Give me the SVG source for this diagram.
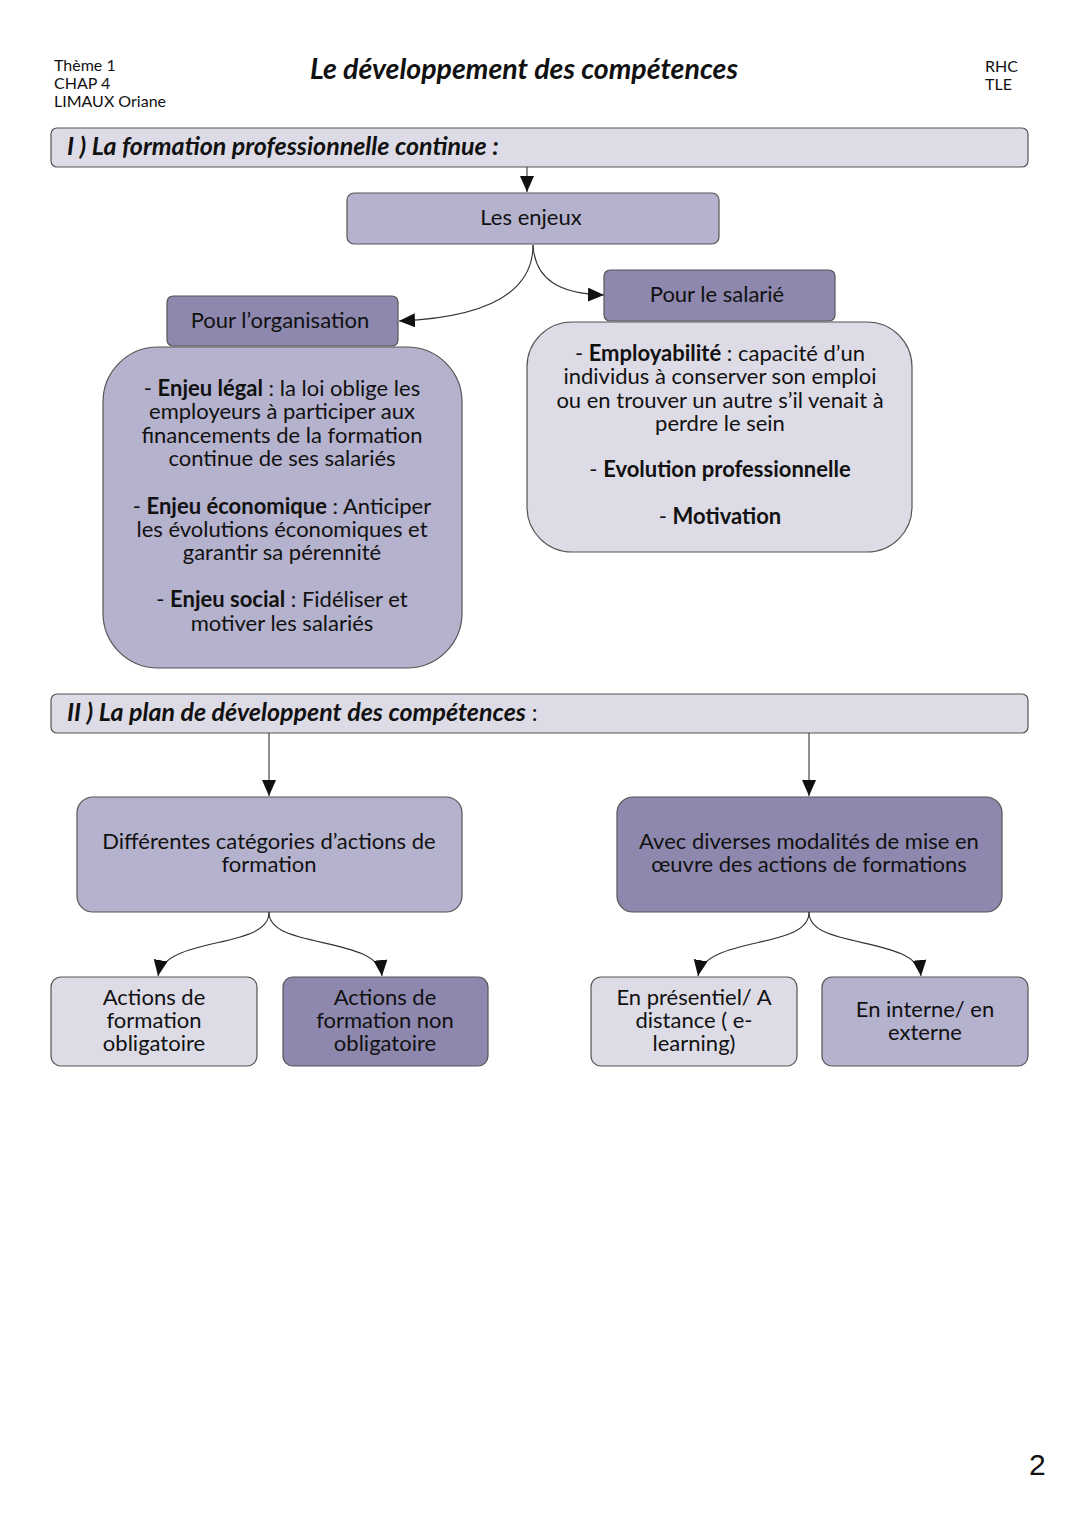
<svg xmlns="http://www.w3.org/2000/svg" width="1080" height="1527" viewBox="0 0 1080 1527">
<style>
text{font-family:Lato,"Open Sans","Liberation Sans",sans-serif;fill:#111;}
.hd{font-size:16px;}
.t{font-size:22px;text-anchor:middle;}
.b{font-weight:bold;}
.sec{font-size:25px;font-weight:bold;font-style:italic;}
.light{fill:#DDDCE6;stroke:#555;stroke-width:1.2;}
.mid{fill:#B5B2CD;stroke:#555;stroke-width:1.2;}
.dark{fill:#8E88AE;stroke:#555;stroke-width:1.2;}
.c{fill:none;stroke:#333;stroke-width:1.1;}
</style>
<defs>
<marker id="ah" markerUnits="userSpaceOnUse" markerWidth="18" markerHeight="16" refX="16" refY="7" orient="auto">
<path d="M0,0 L16,7 L0,14 Z" fill="#111"/>
</marker>
</defs>
<rect width="1080" height="1527" fill="#fff"/>
<g id="header">
<text class="hd" x="54" y="71">Thème 1</text>
<text class="hd" x="54" y="89">CHAP 4</text>
<text class="hd" x="54" y="107">LIMAUX Oriane</text>
<text x="310" y="79" style="font-size:28.5px;font-weight:bold;font-style:italic">Le développement des compétences</text>
<text class="hd" x="985" y="72">RHC</text>
<text class="hd" x="985" y="90">TLE</text>
</g>
<g id="sec1">
<rect class="light" x="51" y="128" width="977" height="39" rx="6"/>
<text class="sec" x="67" y="155">I ) La formation professionnelle continue :</text>
</g>
<g id="enjeux">
<rect class="mid" x="347" y="193" width="372" height="51" rx="7"/>
<text class="t" x="531" y="225">Les enjeux</text>
</g>
<g id="organisation">
<rect class="dark" x="167" y="296" width="231" height="50" rx="6"/>
<text class="t" x="280" y="328">Pour l’organisation</text>
</g>
<g id="org-detail">
<rect class="mid" x="103" y="347" width="359" height="321" rx="55"/>
<text class="t" x="282" y="396">- <tspan class="b">Enjeu légal</tspan> : la loi oblige les</text>
<text class="t" x="282" y="419">employeurs à participer aux</text>
<text class="t" x="282" y="443">financements de la formation</text>
<text class="t" x="282" y="466">continue de ses salariés</text>
<text class="t" x="282" y="514">- <tspan class="b">Enjeu économique</tspan> : Anticiper</text>
<text class="t" x="282" y="537">les évolutions économiques et</text>
<text class="t" x="282" y="560">garantir sa pérennité</text>
<text class="t" x="282" y="607">- <tspan class="b">Enjeu social</tspan> : Fidéliser et</text>
<text class="t" x="282" y="631">motiver les salariés</text>
</g>
<g id="salarie">
<rect class="dark" x="604" y="270" width="231" height="51" rx="6"/>
<text class="t" x="717" y="302">Pour le salarié</text>
</g>
<g id="sal-detail">
<rect class="light" x="527" y="322" width="385" height="230" rx="45"/>
<text class="t" x="720" y="361">- <tspan class="b">Employabilité</tspan> : capacité d’un</text>
<text class="t" x="720" y="384">individus à conserver son emploi</text>
<text class="t" x="720" y="408">ou en trouver un autre s’il venait à</text>
<text class="t" x="720" y="431">perdre le sein</text>
<text class="t" x="720" y="477">- <tspan class="b">Evolution professionnelle</tspan></text>
<text class="t" x="720" y="524">- <tspan class="b">Motivation</tspan></text>
</g>
<g id="sec2">
<rect class="light" x="51" y="694" width="977" height="39" rx="6"/>
<text class="sec" x="67" y="721">II ) La plan de développent des compétences<tspan style="font-weight:normal;font-style:normal;font-size:23px"> :</tspan></text>
</g>
<g id="categories">
<rect class="mid" x="77" y="797" width="385" height="115" rx="16"/>
<text class="t" x="269" y="849">Différentes catégories d’actions de</text>
<text class="t" x="269" y="872">formation</text>
</g>
<g id="modalites">
<rect class="dark" x="617" y="797" width="385" height="115" rx="16"/>
<text class="t" x="809" y="849">Avec diverses modalités de mise en</text>
<text class="t" x="809" y="872">œuvre des actions de formations</text>
</g>
<g id="obligatoire">
<rect class="light" x="51" y="977" width="206" height="89" rx="10"/>
<text class="t" x="154" y="1005">Actions de</text>
<text class="t" x="154" y="1028">formation</text>
<text class="t" x="154" y="1051">obligatoire</text>
</g>
<g id="non-obligatoire">
<rect class="dark" x="283" y="977" width="205" height="89" rx="10"/>
<text class="t" x="385" y="1005">Actions de</text>
<text class="t" x="385" y="1028">formation non</text>
<text class="t" x="385" y="1051">obligatoire</text>
</g>
<g id="presentiel">
<rect class="light" x="591" y="977" width="206" height="89" rx="10"/>
<text class="t" x="694" y="1005">En présentiel/ A</text>
<text class="t" x="694" y="1028">distance ( e-</text>
<text class="t" x="694" y="1051">learning)</text>
</g>
<g id="interne">
<rect class="mid" x="822" y="977" width="206" height="89" rx="10"/>
<text class="t" x="925" y="1017">En interne/ en</text>
<text class="t" x="925" y="1040">externe</text>
</g>
<g id="connectors">
<path class="c" d="M527,167 L527,192" marker-end="url(#ah)"/>
<path class="c" d="M533,245 C533,300 470,318 399,321" marker-end="url(#ah)"/>
<path class="c" d="M533,245 C535,280 560,294 604,295" marker-end="url(#ah)"/>
<path class="c" d="M269,733 L269,796" marker-end="url(#ah)"/>
<path class="c" d="M809,733 L809,796" marker-end="url(#ah)"/>
<path class="c" d="M269,912 C270,950 165,935 158,976" marker-end="url(#ah)"/>
<path class="c" d="M269,912 C268,950 378,935 382,976" marker-end="url(#ah)"/>
<path class="c" d="M809,912 C810,950 705,935 698,976" marker-end="url(#ah)"/>
<path class="c" d="M809,912 C808,950 917,935 921,976" marker-end="url(#ah)"/>
</g>
<text x="1029" y="1475" style="font-size:30px;font-family:'Liberation Sans',sans-serif">2</text>
</svg>
